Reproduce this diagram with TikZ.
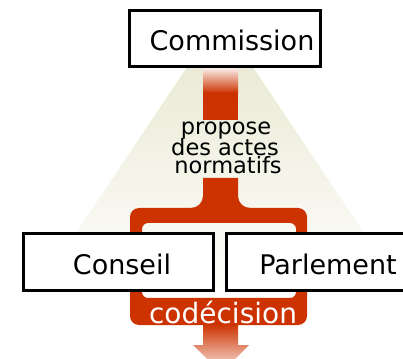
\documentclass[tikz,border=0pt]{standalone}
\usepackage{fontspec}
\setmainfont{DejaVu Sans}
\definecolor{eured}{RGB}{204,51,0}
\definecolor{beige}{RGB}{230,230,206}
\begin{document}
\begin{tikzpicture}[x=1pt,y=1pt,
  box/.style={draw=black,line width=2.7pt,fill=white,rectangle,inner sep=0pt,anchor=south west},
  lbl/.style={anchor=base,inner sep=0pt,font=\fontsize{27}{30}\selectfont},
  small/.style={anchor=base,inner sep=0pt,font=\fontsize{22.5}{24}\selectfont}]
\useasboundingbox (0,0) rectangle (403,358);
% pale triangle
\shade[top color=beige,bottom color=white] (220,340) -- (31,58) -- (409,58) -- cycle;
% upper stem
\shade[top color=eured!12,bottom color=eured] (203,265) rectangle (238,289);
\fill[eured] (203,238) rectangle (238,265.5);
% lower stem with fillets
\fill[eured] (203,180) -- (203,162) .. controls (203,155.4) and (197.6,150) .. (191,150)
  -- (191,146) -- (250,146) -- (250,150) .. controls (243.4,150) and (238,155.4) .. (238,162)
  -- (238,180) -- cycle;
% frame
\fill[eured,even odd rule,rounded corners=9pt] (130,33) rectangle (307,150)
  [rounded corners=6pt] (142,60) rectangle (296,135);
% bottom arrow
\shade[top color=eured,bottom color=eured!8] (203,34) -- (203,13) -- (193,13) -- (221,-15)
  -- (249,13) -- (238,13) -- (238,34) -- cycle;
% text on the stem
\node[small] (t1) at (226,223) {propose};
\node[small] (t2) at (225,202.5) {des actes};
\node[small] (t3) at (228,184.5) {normatifs};
% boxes
\node[box,minimum width=191pt,minimum height=56pt] (com) at (128,290) {};
\node[box,minimum width=190pt,minimum height=57pt] (con) at (22,66) {};
\node[box,minimum width=190pt,minimum height=57pt] (par) at (225,66) {};
\node[lbl] (comt) at (232,307) {Commission};
\node[lbl] (cont) at (122,83) {Conseil};
\node[lbl] (part) at (328,83) {Parlement};
\node[lbl,text=white,font=\fontsize{28}{30}\selectfont] (cod) at (223,35) {codécision};
\end{tikzpicture}
\end{document}
